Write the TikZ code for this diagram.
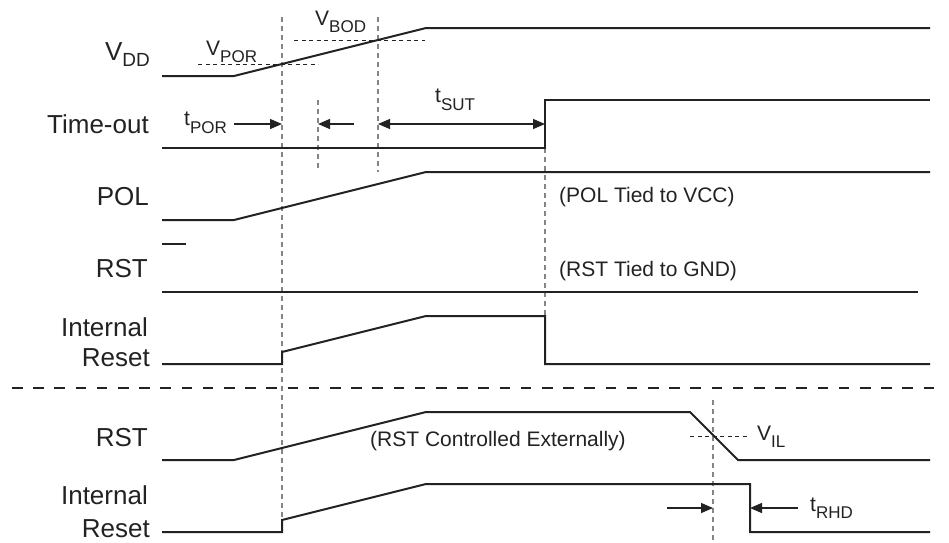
\documentclass[tikz,border=0pt]{standalone}
\usepackage{fontspec}
\usepackage{graphicx}
\setmainfont{Liberation Sans}
\usetikzlibrary{arrows.meta}
\definecolor{ink}{HTML}{222222}
\definecolor{guide}{HTML}{858585}
\newcommand{\sbx}[3]{\raisebox{-#2pt}{\fontsize{#1}{#1}\selectfont #3}}
\begin{document}
\begin{tikzpicture}[x=1pt,y=-1pt,
  sig/.style={draw=ink, line width=2pt, line join=miter},
  guideline/.style={draw=guide, line width=1.2pt, dash pattern=on 5pt off 4pt},
  level/.style={draw=ink, line width=0.9pt, dash pattern=on 4pt off 3.5pt},
  dim/.style={draw=ink, line width=1.3pt, -{Triangle[length=12pt,width=10pt]}},
  dimboth/.style={draw=ink, line width=1.3pt, {Triangle[length=12pt,width=10pt]}-{Triangle[length=12pt,width=10pt]}},
  lbl/.style={anchor=base east, inner sep=0, text=ink, font=\fontsize{26}{26}\selectfont},
  ann/.style={anchor=base west, inner sep=0, text=ink, font=\fontsize{21}{21}\selectfont},
  sep/.style={draw=ink, line width=2.6pt, dash pattern=on 10.5pt off 10.7pt}
]
\useasboundingbox (0,0) rectangle (949,542);

% row labels
\node[lbl] (lvdd) at (150,60) {V\sbx{19}{6}{DD}};
\node[lbl] (ltime) at (149,133) {Time-out};
\node[lbl] (lpol) at (149,205) {POL};
\node[lbl] (lrst) at (148,277) {RST};
\node[lbl] (lint) at (148,336) {Internal};
\node[lbl] (lres) at (150,366) {Reset};
\node[lbl] (lrstb) at (148,446) {RST};
\node[lbl] (lintb) at (148,504) {Internal};
\node[lbl] (lresb) at (150,537) {Reset};

% RST overbar
\draw[draw=ink, line width=1.6pt] (162,244) -- (186,244);

% guides
\draw[guideline] (282,17) -- (282,518);
\draw[guideline] (378,17) -- (378,172);
\draw[guideline] (318,100) -- (318,170);
\draw[guideline] (545,148) -- (545,316);
\draw[guideline] (713,400) -- (713,542);

% threshold levels
\draw[level] (198,64) -- (318,64);
\draw[level] (294,40) -- (425,40);
\draw[level] (690,436) -- (748,436);

% waveforms
\draw[sig] (162,76) -- (234,76) -- (426,28) -- (930,28);
\draw[sig] (162,148) -- (545,148) -- (545,100) -- (930,100);
\draw[sig] (162,220) -- (234,220) -- (426,172) -- (930,172);
\draw[sig] (162,292) -- (918,292);
\draw[sig] (162,364) -- (282,364) -- (282,352) -- (426,316) -- (545,316) -- (545,364) -- (930,364);
\draw[sig] (162,460) -- (234,460) -- (426,412) -- (690,412) -- (738,460) -- (930,460);
\draw[sig] (162,532) -- (282,532) -- (282,520) -- (426,484) -- (750,484) -- (750,532) -- (930,532);

% separator
\draw[sep] (12,388) -- (940,388);

% annotation texts
\node[ann] (vpor) at (206,55) {V\sbx{17}{7}{POR}};
\node[ann] (vbod) at (315,25) {V\sbx{17}{7}{BOD}};
\node[ann] (tpor) at (184,125) {t\sbx{17}{8}{POR}};
\node[ann] (tsut) at (435,102) {t\sbx{17}{8}{SUT}};
\node[ann] (vil) at (757,440) {V\sbx{17}{7}{IL}};
\node[ann] (trhd) at (810,511) {t\sbx{17}{7}{RHD}};
\node[ann] (polvcc) at (559,202) {(POL Tied to VCC)};
\node[ann] (rstgnd) at (559,276) {(RST Tied to GND)};
\node[ann] (rstext) at (370,446) {(RST Controlled Externally)};

% dimension arrows
\coordinate (a1s) at (234,124);
\coordinate (a1e) at (282,124);
\coordinate (a2s) at (354,124);
\coordinate (a2e) at (318,124);
\coordinate (a3s) at (378,124);
\coordinate (a3e) at (545,124);
\coordinate (b1s) at (667,508);
\coordinate (b1e) at (713,508);
\coordinate (b2s) at (798,508);
\coordinate (b2e) at (750,508);
\draw[dim] (a1s) -- (a1e);
\draw[dim] (a2s) -- (a2e);
\draw[dimboth] (a3s) -- (a3e);
\draw[dim] (b1s) -- (b1e);
\draw[dim] (b2s) -- (b2e);
\end{tikzpicture}
\end{document}
